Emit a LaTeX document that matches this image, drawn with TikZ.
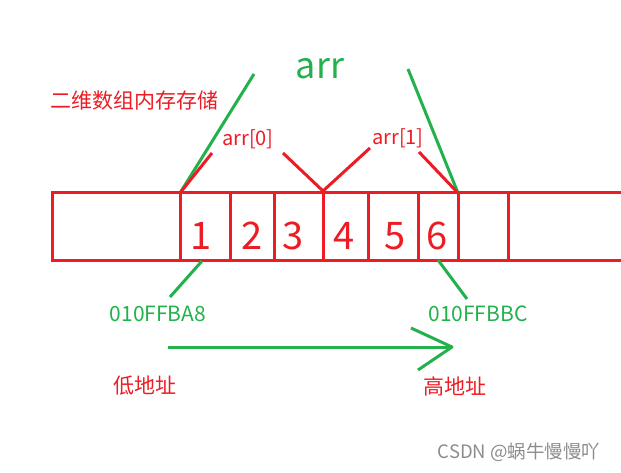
\documentclass[tikz,border=0pt]{standalone}
\usepackage{fontspec}
\setmainfont{Noto Sans CJK SC}
\definecolor{pred}{HTML}{ED1C24}
\definecolor{pgreen}{HTML}{22B14C}
\tikzset{
  redline/.style={draw=pred, line width=3pt},
  greenline/.style={draw=pgreen, line width=3pt},
  digit/.style={text=pred, font=\fontsize{38}{40}\selectfont, inner sep=0pt},
  redlabel/.style={text=pred, font=\fontsize{20}{22}\selectfont, inner sep=0pt},
  greenlabel/.style={text=pgreen, font=\fontsize{21}{23}\selectfont, inner sep=0pt},
}
\begin{document}
\begin{tikzpicture}[x=1pt, y=-1pt]
\useasboundingbox (0,0) rectangle (621,473);
% array
\coordinate (tl) at (52,193);
\coordinate (bl) at (52,260);
\coordinate (tr) at (625,193);
\coordinate (br) at (625,260);
\draw[redline] (tr) -- (tl) -- (bl) -- (br);
\foreach \x/\n in {180/a,230/b,274/c,323/d,368/e,418/f,458/g,508/h} {
  \coordinate (t\n) at (\x,193);
  \coordinate (b\n) at (\x,260);
  \draw[redline] (t\n) -- (b\n);
}
\node[digit] (d1) at (201,236) {1};
\node[digit] (d2) at (252,236) {2};
\node[digit] (d3) at (293,236) {3};
\node[digit] (d4) at (344,236) {4};
\node[digit] (d5) at (395,236) {5};
\node[digit] (d6) at (437,236) {6};
% title
\node[text=pgreen, font=\fontsize{36}{38}\selectfont, inner sep=0pt] (arr) at (320,69) {arr};
\node[text=pred, font=\fontsize{21}{23}\selectfont, inner sep=0pt] (title) at (134,101) {二维数组内存存储};
% green arr lines
\coordinate (gl) at (254,74);
\coordinate (gr) at (408,69);
\draw[greenline] (gl) -- (ta);
\draw[greenline] (gr) -- (tg);
% red sub-array labels
\node[redlabel] (a0) at (248,139) {arr[0]};
\node[redlabel] (a1) at (398,138) {arr[1]};
\coordinate (a0l) at (212,153);
\coordinate (a0r) at (283,153);
\coordinate (a1l) at (370,148);
\coordinate (a1r) at (419,152);
\coordinate (mid) at (323,191);
\draw[redline] (ta) -- (a0l);
\draw[redline] (a0r) -- (mid) -- (a1l);
\draw[redline] (a1r) -- (tg);
% addresses
\node[greenlabel] (lowaddr) at (158,314) {010FFBA8};
\node[greenlabel] (highaddr) at (478,314) {010FFBBC};
\coordinate (p1a) at (202,261);
\coordinate (p1b) at (170,297);
\coordinate (p6a) at (438,260);
\coordinate (p6b) at (467,299);
\draw[greenline] (p1a) -- (p1b);
\draw[greenline] (p6a) -- (p6b);
% direction arrow
\coordinate (as) at (168,347);
\coordinate (ae) at (452,347);
\coordinate (ah1) at (411,328);
\coordinate (ah2) at (418,370);
\draw[greenline] (as) -- (ae);
\draw[greenline, line join=round] (ah1) -- (ae) -- (ah2);
\node[text=pred, font=\fontsize{21}{23}\selectfont, inner sep=0pt] (low) at (145,386) {低地址};
\node[text=pred, font=\fontsize{21}{23}\selectfont, inner sep=0pt] (high) at (455,386) {高地址};
% watermark
\node[text=black!45, font=\fontsize{18.5}{20}\selectfont, inner sep=0pt] (wm) at (519,452) {CSDN @蜗牛慢慢吖};
\end{tikzpicture}
\end{document}
